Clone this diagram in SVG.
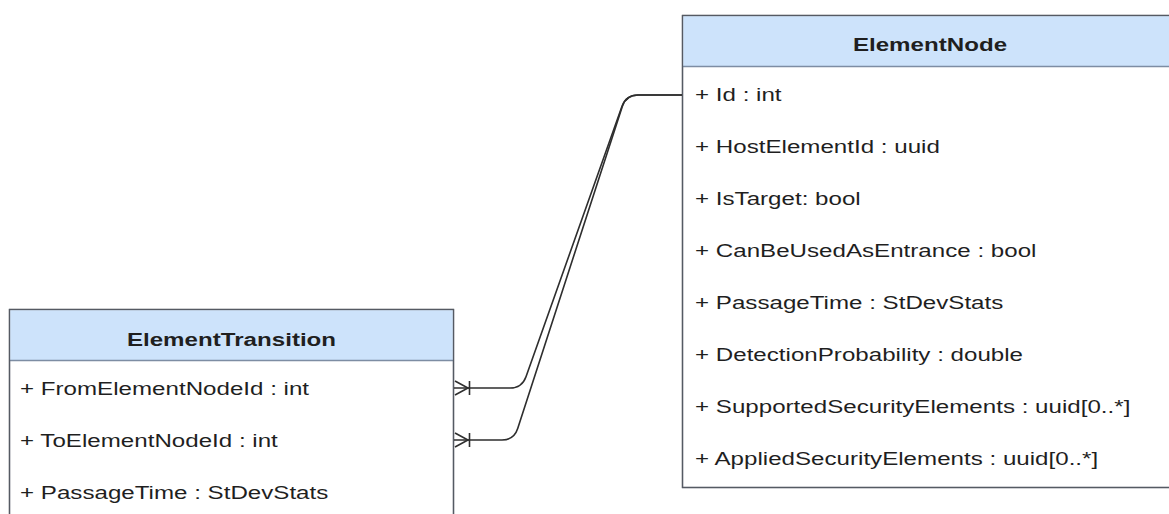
<svg xmlns="http://www.w3.org/2000/svg" width="1169" height="514" viewBox="0 0 1169 514">
<style>
.box{fill:#ffffff;stroke:#555a63;stroke-width:1.3}
.hdr{fill:#cde3fb;stroke:none}
.sep{stroke:#7d8da3;stroke-width:1.3}
.t{font-family:"Liberation Sans",Arial,sans-serif;font-size:18.5px;fill:#1f1f1f}
.h{font-family:"Liberation Sans",Arial,sans-serif;font-size:18.5px;font-weight:bold;fill:#1f1f1f;text-anchor:middle}
.edge{fill:none;stroke:#2e2e2e;stroke-width:1.6}
</style>
<rect width="1169" height="514" fill="#ffffff"/>
<g id="ElementNode">
<rect class="box" x="682.5" y="15.5" width="500" height="472"/>
<rect class="hdr" x="683.2" y="16.2" width="498" height="50"/>
<line class="sep" x1="682.5" y1="66.5" x2="1182" y2="66.5"/>
<rect x="682.5" y="15.5" width="500" height="472" fill="none" stroke="#555a63" stroke-width="1.3"/>
<text class="h" transform="translate(930,51) scale(1.305,1)">ElementNode</text>
<text class="t" transform="translate(695,101) scale(1.305,1)">+ Id : int</text>
<text class="t" transform="translate(695,153) scale(1.305,1)">+ HostElementId : uuid</text>
<text class="t" transform="translate(695,205) scale(1.305,1)">+ IsTarget: bool</text>
<text class="t" transform="translate(695,257) scale(1.305,1)">+ CanBeUsedAsEntrance : bool</text>
<text class="t" transform="translate(695,309) scale(1.305,1)">+ PassageTime : StDevStats</text>
<text class="t" transform="translate(695,361) scale(1.305,1)">+ DetectionProbability : double</text>
<text class="t" transform="translate(695,413) scale(1.305,1)">+ SupportedSecurityElements : uuid[0..*]</text>
<text class="t" transform="translate(695,465) scale(1.305,1)">+ AppliedSecurityElements : uuid[0..*]</text>
</g>
<g id="ElementTransition">
<rect class="box" x="9.5" y="309.5" width="444" height="220"/>
<rect class="hdr" x="10.2" y="310.2" width="442.6" height="50"/>
<line class="sep" x1="9.5" y1="360.5" x2="453.5" y2="360.5"/>
<rect x="9.5" y="309.5" width="444" height="220" fill="none" stroke="#555a63" stroke-width="1.3"/>
<text class="h" transform="translate(231.5,346) scale(1.305,1)">ElementTransition</text>
<text class="t" transform="translate(20,395) scale(1.305,1)">+ FromElementNodeId : int</text>
<text class="t" transform="translate(20,447) scale(1.305,1)">+ ToElementNodeId : int</text>
<text class="t" transform="translate(20,499) scale(1.305,1)">+ PassageTime : StDevStats</text>
</g>
<g id="connectors">
<path class="edge" d="M682,95 L638,95 Q626,95 622,106.3 L526,376.7 Q522,388 510,388 L454,388"/>
<path class="edge" d="M455,381 L468,388 L455,395 M469.5,381 L469.5,395"/>
<path class="edge" d="M682,95 L638,95 Q626,95 622.3,106.4 L517.7,428.6 Q514,440 502,440 L454,440"/>
<path class="edge" d="M455,433 L468,440 L455,447 M469.5,433 L469.5,447"/>
</g>
</svg>
